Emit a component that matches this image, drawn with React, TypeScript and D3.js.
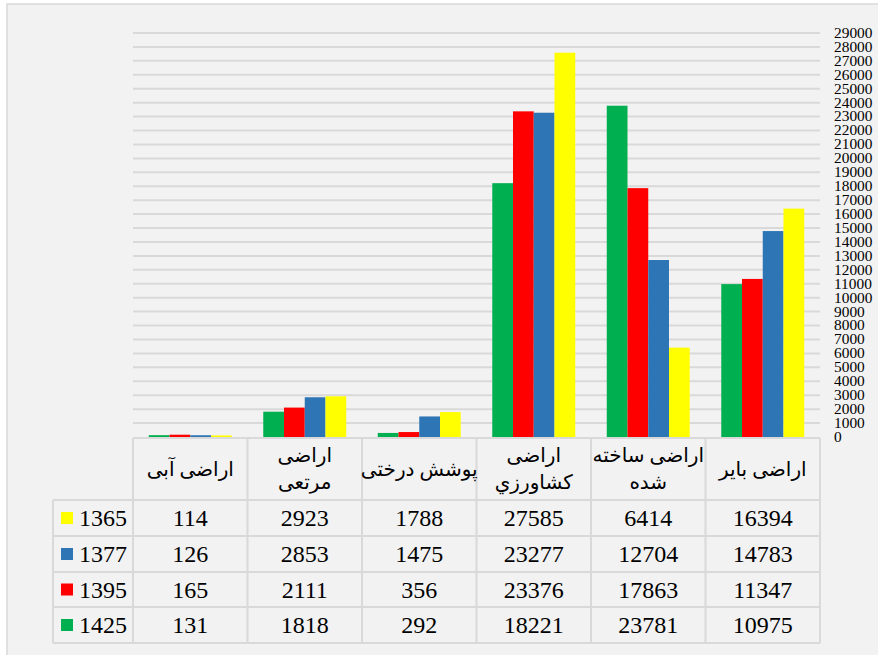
import React from "react";
import * as d3 from "d3";

const categories = ["اراضی آبی", "اراضی مرتعی", "پوشش درختی", "اراضی کشاورزي", "اراضی ساخته شده", "اراضی بایر"];
const headerLines = [["اراضی آبی"], ["اراضی", "مرتعی"], ["پوشش درختی"], ["اراضی", "کشاورزي"], ["اراضی ساخته", "شده"], ["اراضی بایر"]];
const seriesNames = ["1365", "1377", "1395", "1425"];
const seriesColors = ["#ffff00", "#2e75b6", "#ff0000", "#00b050"];
const values1365 = [114, 2923, 1788, 27585, 6414, 16394];
const values1377 = [126, 2853, 1475, 23277, 12704, 14783];
const values1395 = [165, 2111, 356, 23376, 17863, 11347];
const values1425 = [131, 1818, 292, 18221, 23781, 10975];
const seriesValues = [values1365, values1377, values1395, values1425];
const barOrder = ["1425", "1395", "1377", "1365"];
const yTicks = d3.range(0, 29001, 1000);

export default function App() {
  const W = 878, H = 655;
  const left = 133, right = 820, top = 33, base = 437;
  const x0 = d3.scaleBand<string>().domain(categories).range([left, right]).padding(0);
  const x1 = d3.scaleBand<string>().domain(barOrder).range([0, x0.bandwidth()]).paddingInner(0).paddingOuter(0.76);
  const y = d3.scaleLinear().domain([0, 29000]).range([base, top]);
  const grid = "#d9d9d9";
  const rowYs = [500, 536, 572, 607, 643];
  const tableTop = 438;
  const legendLeft = 53;
  const serif = "'Liberation Serif'";
  const arabic = "'Liberation Serif', 'DejaVu Sans'";
  return (
    <svg width={W} height={H} style={{ position: "absolute", left: 0, top: 0 }}>
      <rect x={0} y={0} width={W} height={H} fill="#ffffff" />
      <rect x={7} y={4} width={W - 6} height={H} fill="#f2f2f2" stroke="#d9d9d9" strokeWidth={1.5} />
      {yTicks.filter((t) => t > 0).map((t) => (
        <line key={t} x1={left} x2={right} y1={y(t)} y2={y(t)} stroke={grid} strokeWidth={2} />
      ))}
      {yTicks.map((t) => (
        <g key={t} transform={`translate(834,${y(t)}) scale(1.1,1)`}>
          <text x={0} y={0} dy="0.35em" fontFamily={serif} fontSize={14} fill="#000">{t}</text>
        </g>
      ))}
      {categories.map((c, ci) => (
        <g key={c}>
          {barOrder.map((s) => {
            const si = seriesNames.indexOf(s);
            const v = seriesValues[si][ci];
            return (
              <rect key={s} x={(x0(c) as number) + (x1(s) as number)} width={x1.bandwidth()} y={y(v)} height={base - y(v)} fill={seriesColors[si]} />
            );
          })}
        </g>
      ))}
      <g stroke={grid} strokeWidth={2}>
        <line x1={left} x2={right} y1={tableTop} y2={tableTop} />
        {rowYs.map((ry) => (
          <line key={ry} x1={legendLeft} x2={right} y1={ry} y2={ry} />
        ))}
        <line x1={legendLeft} x2={legendLeft} y1={rowYs[0]} y2={rowYs[rowYs.length - 1]} />
        {categories.map((c) => (
          <line key={c} x1={x0(c) as number} x2={x0(c) as number} y1={tableTop} y2={rowYs[rowYs.length - 1]} />
        ))}
        <line x1={right} x2={right} y1={tableTop} y2={rowYs[rowYs.length - 1]} />
      </g>
      {categories.map((c, ci) => {
        const cx = (x0(c) as number) + x0.bandwidth() / 2;
        const lines = headerLines[ci];
        const mid = (tableTop + rowYs[0]) / 2;
        return (
          <g key={c}>
            {lines.map((ln, li) => {
              const cy = lines.length === 1 ? mid : mid + (li === 0 ? -14 : 13);
              return (
                <text key={li} x={cx} y={cy} dy="0.35em" textAnchor="middle" fontFamily={arabic} fontSize={20} direction="rtl" fill="#000">{ln}</text>
              );
            })}
          </g>
        );
      })}
      {seriesNames.map((s, si) => {
        const ry = (rowYs[si] + rowYs[si + 1]) / 2;
        return (
          <g key={s}>
            <rect x={61} y={ry - 6} width={12} height={12} fill={seriesColors[si]} />
            <text x={79} y={ry} dy="0.35em" fontFamily={serif} fontSize={24} fill="#000">{s}</text>
            {categories.map((c, ci) => (
              <text key={c} x={(x0(c) as number) + x0.bandwidth() / 2} y={ry} dy="0.35em" textAnchor="middle" fontFamily={serif} fontSize={24} fill="#000">{seriesValues[si][ci]}</text>
            ))}
          </g>
        );
      })}
    </svg>
  );
}
